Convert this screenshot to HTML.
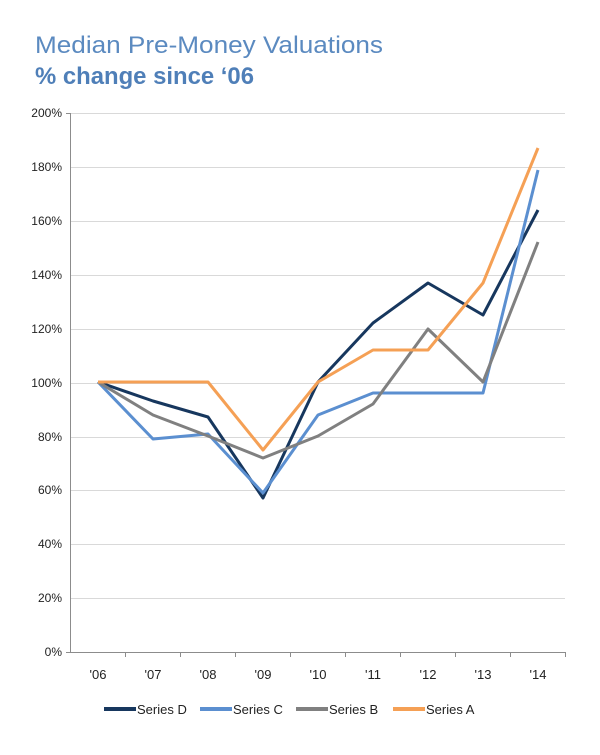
<!DOCTYPE html>
<html><head><meta charset="utf-8"><style>
body{margin:0;background:#fff;}
svg text{font-family:"Liberation Sans",sans-serif;}
</style></head><body>
<svg width="600" height="750" viewBox="0 0 600 750" xmlns="http://www.w3.org/2000/svg">
<text x="35" y="53" font-size="24" fill="#5b8ac0" textLength="348" lengthAdjust="spacingAndGlyphs">Median Pre-Money Valuations</text>
<text x="35" y="84" font-size="24" font-weight="bold" fill="#4f7fb8" textLength="219" lengthAdjust="spacingAndGlyphs">% change since ‘06</text>
<g stroke="#d9d9d9" stroke-width="1">
<line x1="70" y1="113.5" x2="565" y2="113.5"/>
<line x1="70" y1="167.5" x2="565" y2="167.5"/>
<line x1="70" y1="221.5" x2="565" y2="221.5"/>
<line x1="70" y1="275.5" x2="565" y2="275.5"/>
<line x1="70" y1="329.5" x2="565" y2="329.5"/>
<line x1="70" y1="383.5" x2="565" y2="383.5"/>
<line x1="70" y1="437.5" x2="565" y2="437.5"/>
<line x1="70" y1="490.5" x2="565" y2="490.5"/>
<line x1="70" y1="544.5" x2="565" y2="544.5"/>
<line x1="70" y1="598.5" x2="565" y2="598.5"/>
</g>
<g stroke="#8c8c8c" stroke-width="1">
<line x1="70.5" y1="113" x2="70.5" y2="652"/>
<line x1="66" y1="652.5" x2="565" y2="652.5"/>
<line x1="66" y1="113.5" x2="70" y2="113.5"/>
<line x1="125.5" y1="652" x2="125.5" y2="657"/><line x1="180.5" y1="652" x2="180.5" y2="657"/>
<line x1="235.5" y1="652" x2="235.5" y2="657"/><line x1="290.5" y1="652" x2="290.5" y2="657"/>
<line x1="345.5" y1="652" x2="345.5" y2="657"/><line x1="400.5" y1="652" x2="400.5" y2="657"/>
<line x1="455.5" y1="652" x2="455.5" y2="657"/><line x1="510.5" y1="652" x2="510.5" y2="657"/>
<line x1="565.5" y1="652" x2="565.5" y2="657"/>
</g>
<g font-size="12" fill="#222" text-anchor="end">
<text x="62" y="117">200%</text><text x="62" y="171">180%</text><text x="62" y="225">160%</text>
<text x="62" y="279">140%</text><text x="62" y="333">120%</text><text x="62" y="387">100%</text>
<text x="62" y="441">80%</text><text x="62" y="494">60%</text><text x="62" y="548">40%</text>
<text x="62" y="602">20%</text><text x="62" y="656">0%</text>
</g>
<g font-size="13" fill="#222" text-anchor="middle">
<text x="98" y="679">'06</text><text x="153" y="679">'07</text><text x="208" y="679">'08</text>
<text x="263" y="679">'09</text><text x="318" y="679">'10</text><text x="373" y="679">'11</text>
<text x="428" y="679">'12</text><text x="483" y="679">'13</text><text x="538" y="679">'14</text>
</g>
<g fill="none" stroke-width="3" stroke-linejoin="round">
<polyline stroke="#17375e" points="98,382 153,401 208,417 263,498 318,382 373,323 428,283 483,315 538,210"/>
<polyline stroke="#5b8fd0" points="98,382 153,439 208,434 263,493 318,415 373,393 428,393 483,393 538,170"/>
<polyline stroke="#808080" points="98,382 153,415 208,436 263,458 318,436 373,404 428,329 483,382 538,242"/>
<polyline stroke="#f5a055" points="98,382 153,382 208,382 263,450 318,382 373,350 428,350 483,283 538,148"/>
</g>
<g stroke-width="4">
<line x1="104" y1="709" x2="136" y2="709" stroke="#17375e"/>
<line x1="200" y1="709" x2="232" y2="709" stroke="#5b8fd0"/>
<line x1="296" y1="709" x2="328" y2="709" stroke="#808080"/>
<line x1="393" y1="709" x2="425" y2="709" stroke="#f5a055"/>
</g>
<g font-size="13" fill="#222">
<text x="137" y="714">Series D</text><text x="233" y="714">Series C</text>
<text x="329" y="714">Series B</text><text x="426" y="714">Series A</text>
</g>
</svg>
</body></html>
